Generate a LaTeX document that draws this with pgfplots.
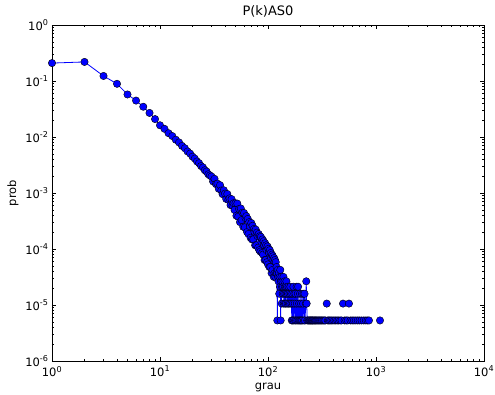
\documentclass[border=0pt]{standalone}
\usepackage{fontspec}
\setmainfont{DejaVu Sans}
\usepackage{pgfplots}
\pgfplotsset{compat=1.18}
\pgfplotstableread{
k p
1 0.209
2 0.219
3 0.123
4 0.0891
5 0.0575
6 0.0447
7 0.0347
8 0.0269
9 0.0209
10 0.0162
11 0.0140
12 0.0117
13 0.0104
14 0.00895
15 0.00801
16 0.00694
17 0.00630
18 0.00552
19 0.00506
20 0.00446
21 0.00412
22 0.00366
23 0.00341
24 0.00303
25 0.00286
26 0.00255
27 0.00242
28 0.00216
29 0.00206
30 0.00197
31 0.00161
32 0.00179
33 0.00144
34 0.00147
35 0.00119
36 0.00138
37 0.00111
38 0.000953
39 0.00112
40 0.000976
41 0.000784
42 0.000961
43 0.000753
44 0.000802
45 0.000609
46 0.000779
47 0.000597
48 0.000658
49 0.000497
50 6.572e-4
51 3.922e-4
52 6.466e-4
53 3.763e-4
54 5.194e-4
55 3.021e-4
56 5.3e-4
57 3.286e-4
58 4.452e-4
59 2.491e-4
60 4.399e-4
61 2.438e-4
62 3.551e-4
63 3.869e-4
64 2.014e-4
65 3.445e-4
66 1.855e-4
67 3.021e-4
68 2.544e-4
69 1.59e-4
70 2.915e-4
71 1.484e-4
72 2.597e-4
73 1.484e-4
74 2.279e-4
75 2.014e-4
76 1.166e-4
77 2.226e-4
78 1.166e-4
79 1.961e-4
80 1.696e-4
81 1.06e-4
82 1.855e-4
83 9.54e-5
84 1.696e-4
85 9.01e-5
86 1.643e-4
87 1.325e-4
88 8.48e-5
89 1.484e-4
90 7.95e-5
91 1.378e-4
92 1.166e-4
93 6.36e-5
94 1.272e-4
95 6.36e-5
96 1.166e-4
97 9.54e-5
98 5.83e-5
99 1.113e-4
100 5.3e-5
101 1.007e-4
102 8.48e-5
103 4.77e-5
104 9.54e-5
105 4.77e-5
106 8.48e-5
107 6.89e-5
108 3.71e-5
109 7.95e-5
110 4.24e-5
111 7.42e-5
112 6.36e-5
113 3.18e-5
114 6.89e-5
115 3.71e-5
116 6.36e-5
117 3.18e-5
118 5.83e-5
119 3.71e-5
120 4.77e-5
121 3.71e-5
122 5.30e-6
123 4.24e-5
124 3.18e-5
125 2.65e-5
126 3.71e-5
127 1.59e-5
128 3.18e-5
129 2.12e-5
130 4.24e-5
131 5.30e-6
132 2.65e-5
133 3.18e-5
134 1.06e-5
135 2.12e-5
136 2.65e-5
137 1.59e-5
138 2.12e-5
139 3.18e-5
140 1.06e-5
141 1.59e-5
142 2.65e-5
143 2.12e-5
144 1.06e-5
145 1.59e-5
146 2.12e-5
147 1.06e-5
148 2.65e-5
149 1.59e-5
150 2.12e-5
152 1.06e-5
153 1.59e-5
155 2.12e-5
156 1.06e-5
158 1.59e-5
160 1.06e-5
161 2.12e-5
163 1.59e-5
165 1.06e-5
166 5.30e-6
168 1.59e-5
169 5.30e-6
170 1.06e-5
172 2.12e-5
173 5.30e-6
175 1.59e-5
177 1.06e-5
178 5.30e-6
180 1.59e-5
182 5.30e-6
184 2.12e-5
185 1.06e-5
187 5.30e-6
189 1.59e-5
190 2.12e-5
192 5.30e-6
194 1.06e-5
196 5.30e-6
198 1.59e-5
200 5.30e-6
202 1.06e-5
204 5.30e-6
206 1.59e-5
208 5.30e-6
211 1.06e-5
213 1.59e-5
215 5.30e-6
218 1.59e-5
220 5.30e-6
224 1.06e-5
226 2.65e-5
228 1.06e-5
231 5.30e-6
}\mainpart
\pgfplotstableread{
k p
236 5.30e-6
240 5.30e-6
244 5.30e-6
247 5.30e-6
251 5.30e-6
255 5.30e-6
258 5.30e-6
262 5.30e-6
267 5.30e-6
272 5.30e-6
276 5.30e-6
281 5.30e-6
287 5.30e-6
293 5.30e-6
299 5.30e-6
305 5.30e-6
312 5.30e-6
318 5.30e-6
326 5.30e-6
333 5.30e-6
340 5.30e-6
350 1.06e-5
358 5.30e-6
366 5.30e-6
375 5.30e-6
386 5.30e-6
398 5.30e-6
410 5.30e-6
423 5.30e-6
437 5.30e-6
450 5.30e-6
466 5.30e-6
480 5.30e-6
495 1.06e-5
512 5.30e-6
530 5.30e-6
548 5.30e-6
562 1.06e-5
580 5.30e-6
602 5.30e-6
625 5.30e-6
650 5.30e-6
678 5.30e-6
705 5.30e-6
735 5.30e-6
770 5.30e-6
805 5.30e-6
835 5.30e-6
861 5.30e-6
1089 5.30e-6
}\tailpart
\begin{document}
\begin{tikzpicture}
\begin{loglogaxis}[
  scale only axis, width=432pt, height=336pt,
  xmin=1, xmax=10000, ymin=1e-6, ymax=1,
  xtick={1,10,100,1000,10000},
  xticklabels={10\textsuperscript{0},10\textsuperscript{1},10\textsuperscript{2},10\textsuperscript{3},10\textsuperscript{4}},
  minor xtick={2,3,4,5,6,7,8,9,20,30,40,50,60,70,80,90,200,300,400,500,600,700,800,900,2000,3000,4000,5000,6000,7000,8000,9000},
  ytick={1e-6,1e-5,1e-4,1e-3,1e-2,1e-1,1},
  yticklabels={10\textsuperscript{-6},10\textsuperscript{-5},10\textsuperscript{-4},10\textsuperscript{-3},10\textsuperscript{-2},10\textsuperscript{-1},10\textsuperscript{0}},
  minor ytick={2e-6,3e-6,4e-6,5e-6,6e-6,7e-6,8e-6,9e-6,2e-5,3e-5,4e-5,5e-5,6e-5,7e-5,8e-5,9e-5,2e-4,3e-4,4e-4,5e-4,6e-4,7e-4,8e-4,9e-4,2e-3,3e-3,4e-3,5e-3,6e-3,7e-3,8e-3,9e-3,0.02,0.03,0.04,0.05,0.06,0.07,0.08,0.09,0.2,0.3,0.4,0.5,0.6,0.7,0.8,0.9},
  tick align=inside, major tick length=4pt, minor tick length=2pt,
  axis line style={black, line width=0.8pt},
  tick style={black, line width=0.6pt},
  ticklabel style={font=\fontsize{11.5}{13}\selectfont},
  xticklabel style={yshift=-1.5pt},
  label style={font=\fontsize{11.5}{13}\selectfont},
  title style={font=\fontsize{13}{15}\selectfont, yshift=-2pt},
  title={P(k)AS0}, xlabel={grau}, ylabel={prob},
]
\addplot[blue, line width=0.8pt, mark=*, mark size=3.7pt, mark options={fill=blue, draw=black, line width=0.4pt}] table[x=k, y=p] {\mainpart};
\addplot[only marks, mark=*, mark size=3.7pt, mark options={fill=blue, draw=black, line width=0.4pt}] table[x=k, y=p] {\tailpart};
\end{loglogaxis}
\pgfresetboundingbox
\path (current axis.south west) +(-52pt,-33pt) (current axis.north east) +(11pt,25pt);
\end{tikzpicture}
\end{document}
